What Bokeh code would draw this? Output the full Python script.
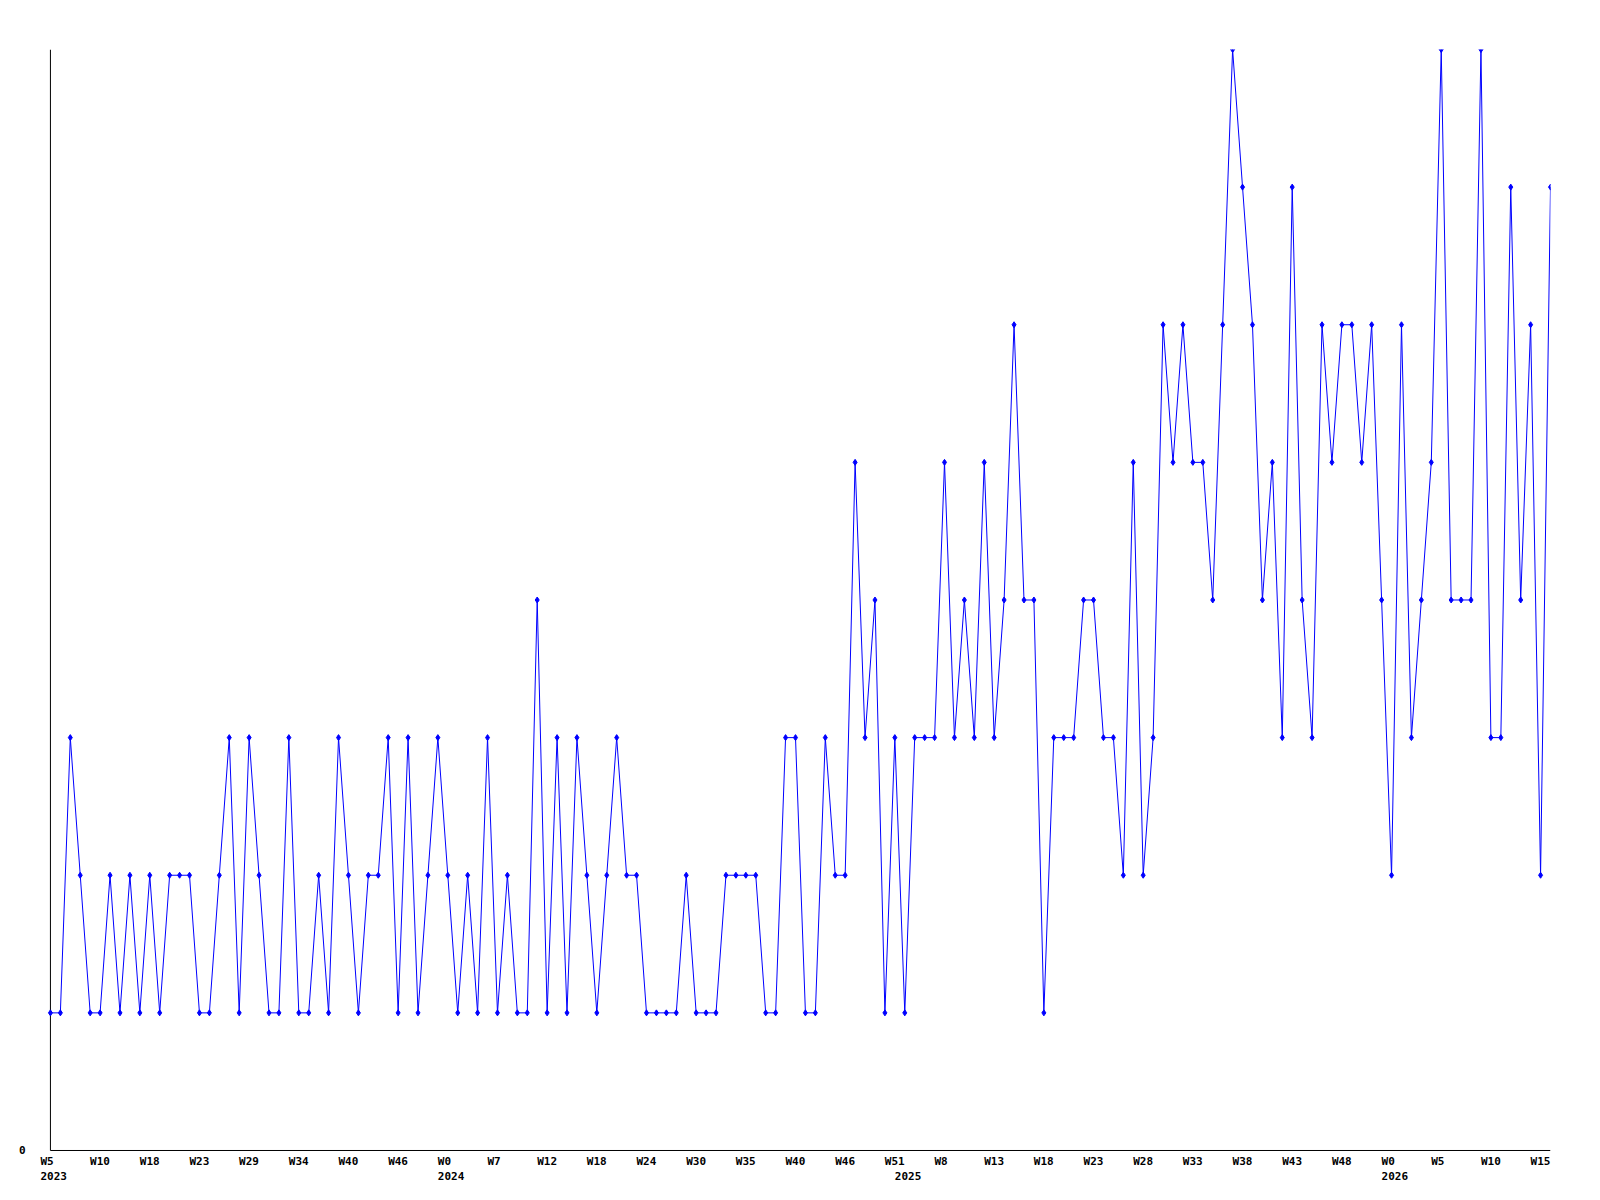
import numpy as np
from bokeh.plotting import figure
from bokeh.models import Range1d, FixedTicker, CustomJSTickFormatter
from bokeh.embed import file_html
from bokeh.resources import INLINE

# weekly counts (one value per point)
values = [
    1, 1, 3, 2, 1, 1, 2, 1, 2, 1,
    2, 1, 2, 2, 2, 1, 1, 2, 3, 1,
    3, 2, 1, 1, 3, 1, 1, 2, 1, 3,
    2, 1, 2, 2, 3, 1, 3, 1, 2, 3,
    2, 1, 2, 1, 3, 1, 2, 1, 1, 4,
    1, 3, 1, 3, 2, 1, 2, 3, 2, 2,
    1, 1, 1, 1, 2, 1, 1, 1, 2, 2,
    2, 2, 1, 1, 3, 3, 1, 1, 3, 2,
    2, 5, 3, 4, 1, 3, 1, 3, 3, 3,
    5, 3, 4, 3, 5, 3, 4, 6, 4, 4,
    1, 3, 3, 3, 4, 4, 3, 3, 2, 5,
    2, 3, 6, 5, 6, 5, 5, 4, 6, 8,
    7, 6, 4, 5, 3, 7, 4, 3, 6, 5,
    6, 6, 5, 6, 4, 2, 6, 3, 4, 5,
    8, 4, 4, 4, 8, 3, 3, 7, 4, 6,
    2, 7,
]

# week tick labels, one every 5 points
week_labels = ["W5", "W10", "W18", "W23", "W29", "W34", "W40", "W46", "W0", "W7",
               "W12", "W18", "W24", "W30", "W35", "W40", "W46", "W51", "W8", "W13",
               "W18", "W23", "W28", "W33", "W38", "W43", "W48", "W0", "W5", "W10", "W15"]
week_idx = list(range(0, 151, 5))
# year labels (second row) at the first point of each year
year_labels = ["2023", "2024", "2025", "2026"]
year_idx = [0, 40, 86, 135]

y_ticks = [0]
y_max = 8

x = np.arange(len(values))
n_last = len(values) - 1

# labels are left-aligned slightly before their point: convert to tick centres
FONT = "DejaVu Sans Mono"
CHAR_W = 6.62          # advance of an 11px monospace character
PX_PER_IDX = 1510 / (n_last + 1)
LEAD = -10             # label starts 10px left of its point


def centre(idx, text):
    return idx + (LEAD + len(text) * CHAR_W / 2) / PX_PER_IDX


tick_pos = [centre(i, t) for i, t in zip(week_idx, week_labels)] + \
           [centre(i, t) for i, t in zip(year_idx, year_labels)]
tick_text = week_labels + ["\n" + t for t in year_labels]

p = figure(width=1592, height=1192, output_backend="svg", toolbar_location=None,
           x_range=Range1d(-1, n_last), y_range=Range1d(-0.0073, y_max),
           min_border_left=40, min_border_right=42, min_border_top=49, min_border_bottom=41)
p.outline_line_color = None
p.grid.visible = False
p.background_fill_color = "white"
p.border_fill_color = "white"

# axis lines starting at the first data point
p.segment(x0=[0], y0=[0], x1=[n_last], y1=[0], line_color="black", line_width=1)
p.segment(x0=[0], y0=[0], x1=[0], y1=[y_max], line_color="black", line_width=1)

p.line(x, values, line_color="#0000ff", line_width=1)
p.scatter(x, values, marker="diamond", size=6, color="#0000ff")

p.xaxis.ticker = FixedTicker(ticks=tick_pos)
p.xaxis.formatter = CustomJSTickFormatter(
    args=dict(pos=tick_pos, lab=tick_text),
    code="""
    for (let i = 0; i < pos.length; i++) {
        if (Math.abs(pos[i] - tick) < 1e-6) return lab[i];
    }
    return "";
    """)
p.xaxis.major_tick_line_color = None
p.xaxis.minor_tick_line_color = None
p.xaxis.major_tick_out = 0
p.xaxis.major_tick_in = 0
p.xaxis.major_label_standoff = 3
p.xaxis.axis_line_color = None
p.xaxis.major_label_text_line_height = 1.2

p.yaxis.ticker = FixedTicker(ticks=y_ticks)
p.yaxis.major_tick_line_color = None
p.yaxis.minor_tick_line_color = None
p.yaxis.major_tick_out = 0
p.yaxis.major_tick_in = 0
p.yaxis.major_label_standoff = 15
p.yaxis.axis_line_color = None

for ax in (p.xaxis, p.yaxis):
    ax.major_label_text_font = FONT
    ax.major_label_text_font_style = "bold"
    ax.major_label_text_font_size = "11px"
    ax.major_label_text_color = "black"

open("out.html", "w").write(file_html(p, INLINE))
